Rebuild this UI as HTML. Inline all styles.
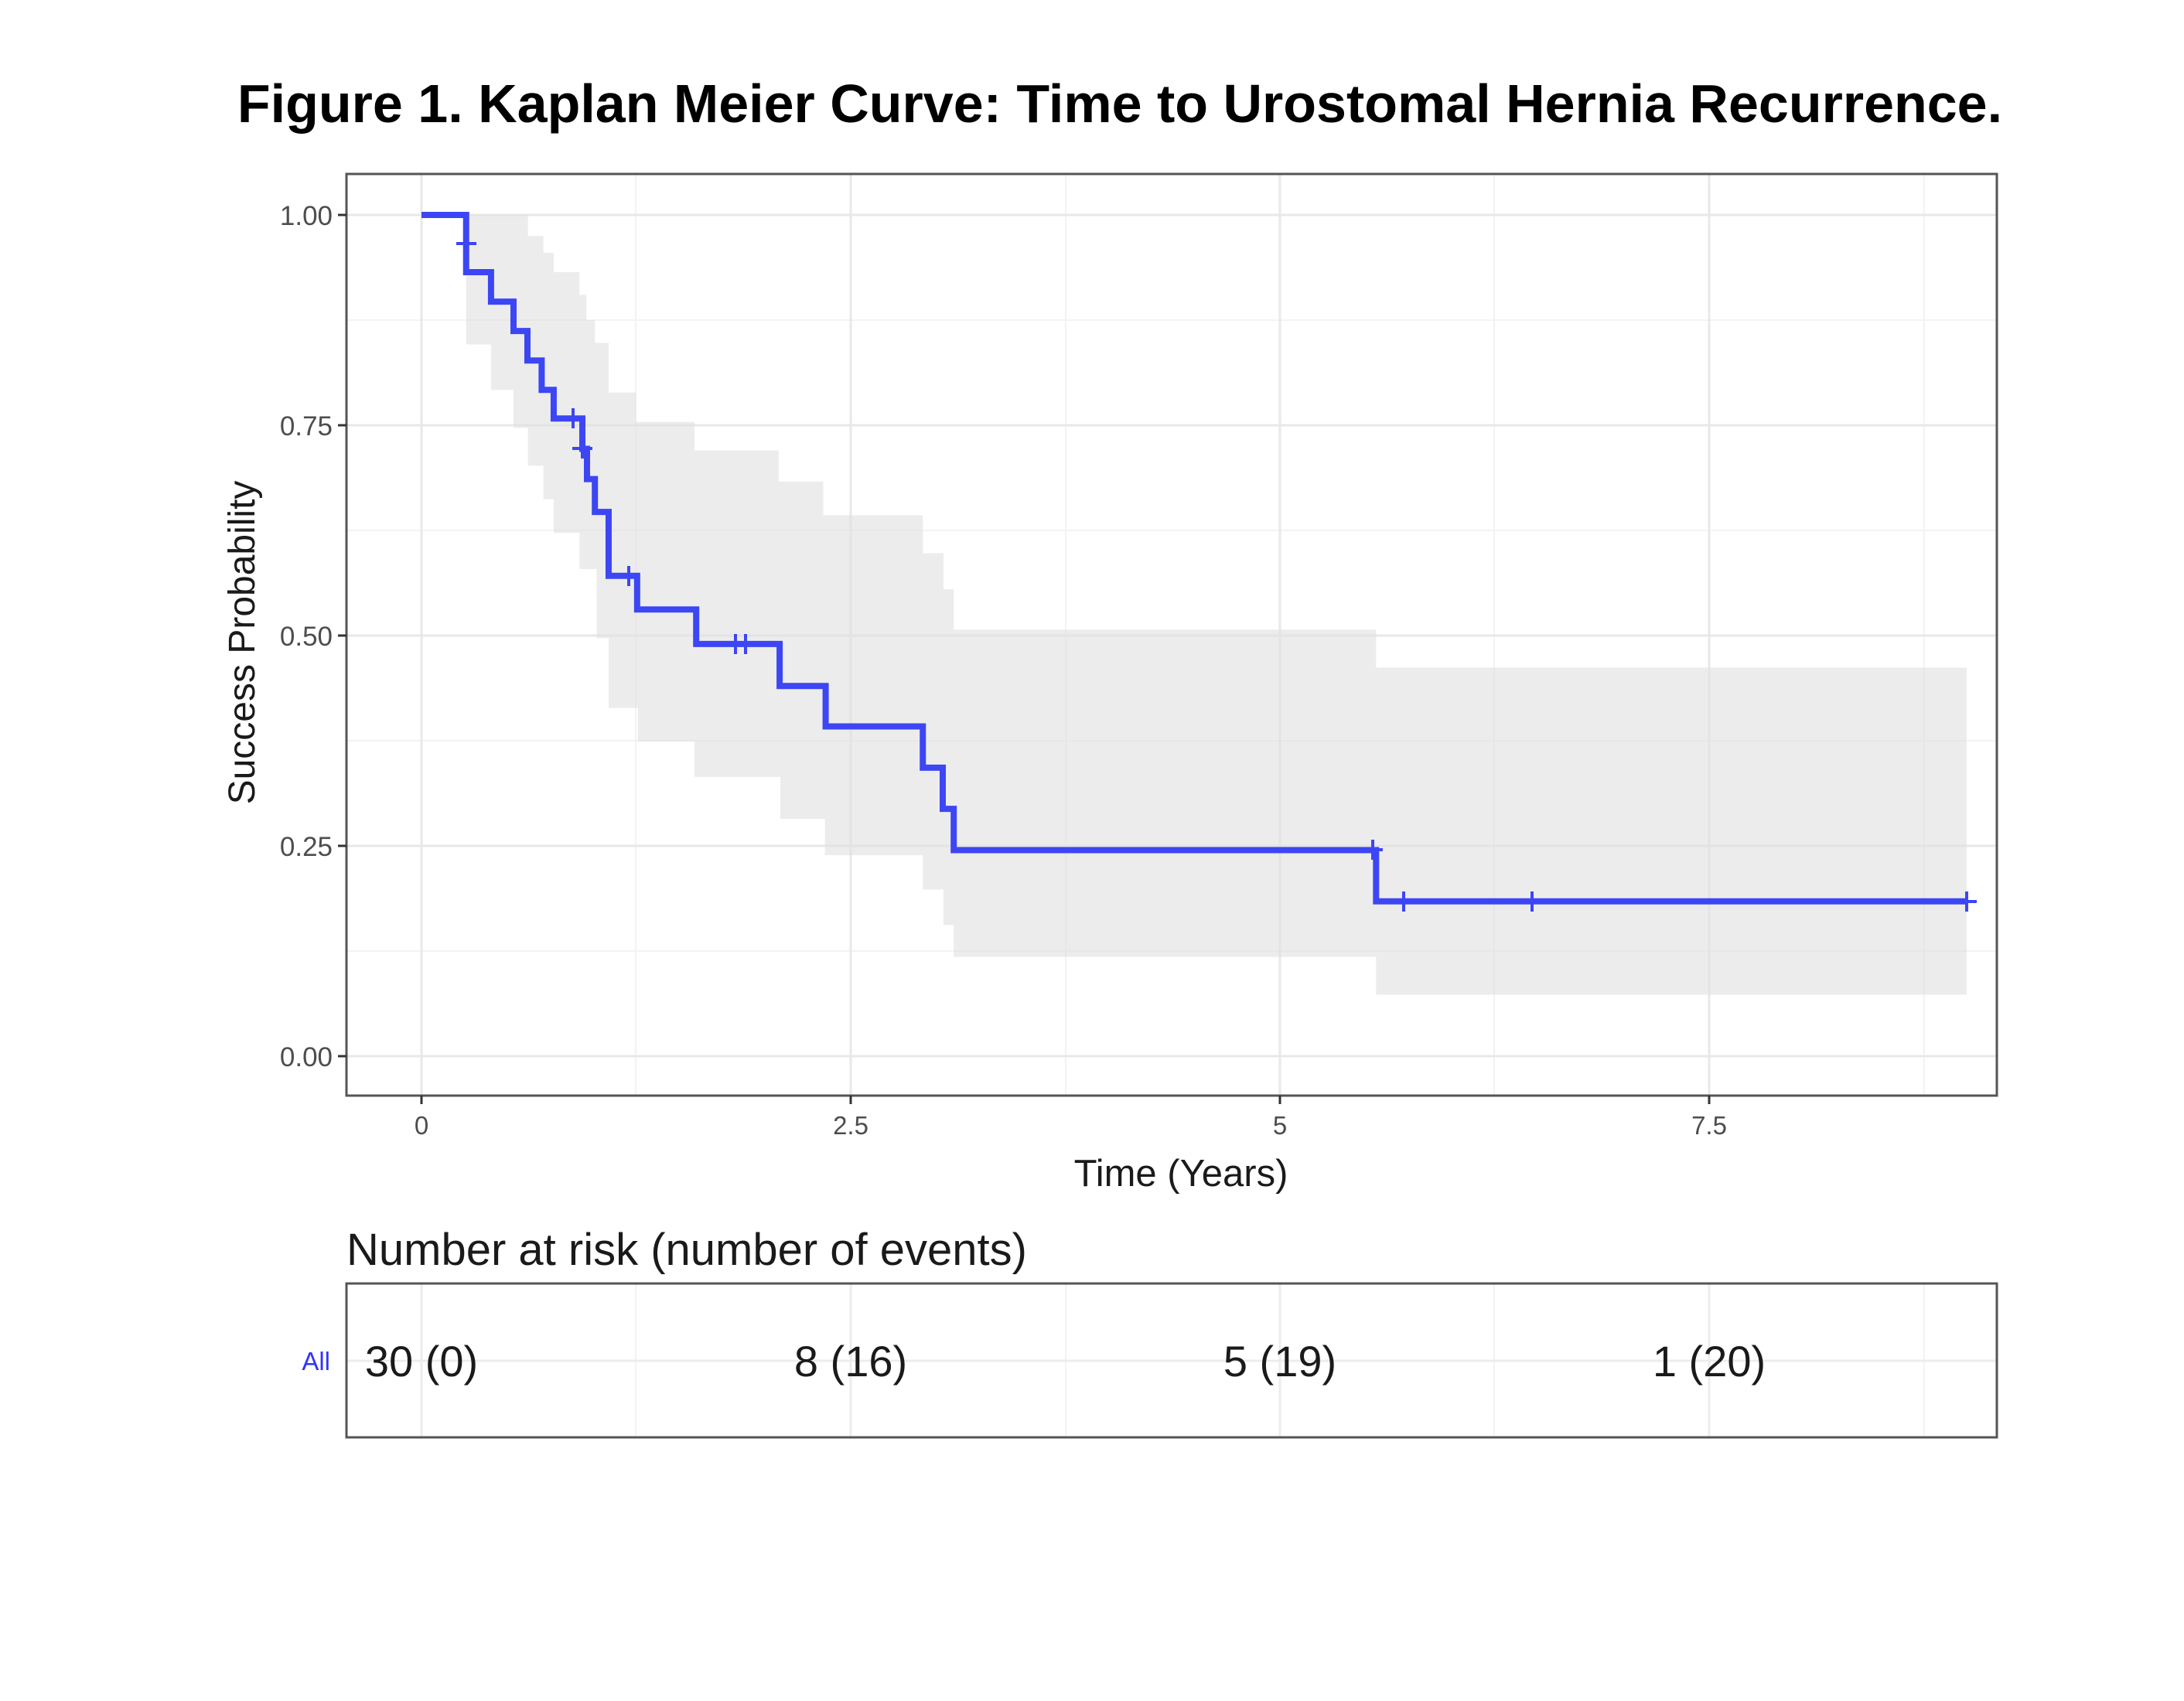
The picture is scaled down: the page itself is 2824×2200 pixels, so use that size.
<!DOCTYPE html>
<html><head><meta charset="utf-8"><style>
html,body{margin:0;padding:0;background:#fff;}
svg{display:block;font-family:"Liberation Sans",Arial,sans-serif;}
</style></head><body>
<svg width="2824" height="2200" viewBox="0 0 2824 2200" xmlns="http://www.w3.org/2000/svg">
<rect width="2824" height="2200" fill="#fff"/>
<text x="1448" y="158" font-size="70" font-weight="bold" text-anchor="middle" fill="#000">Figure 1. Kaplan Meier Curve: Time to Urostomal Hernia Recurrence.</text>

<g stroke="#f3f3f3" stroke-width="2">
<line x1="448" x2="2582" y1="1230" y2="1230"/><line x1="448" x2="2582" y1="958" y2="958"/><line x1="448" x2="2582" y1="686" y2="686"/><line x1="448" x2="2582" y1="414" y2="414"/>
<line y1="225" y2="1417" x1="822" x2="822"/><line y1="225" y2="1417" x1="1378" x2="1378"/><line y1="225" y2="1417" x1="1932" x2="1932"/><line y1="225" y2="1417" x1="2488" x2="2488"/>
</g>
<g stroke="#e8e8e8" stroke-width="3">
<line x1="448" x2="2582" y1="1366" y2="1366"/><line x1="448" x2="2582" y1="1094" y2="1094"/><line x1="448" x2="2582" y1="822" y2="822"/><line x1="448" x2="2582" y1="550" y2="550"/><line x1="448" x2="2582" y1="278" y2="278"/>
<line y1="225" y2="1417" x1="545" x2="545"/><line y1="225" y2="1417" x1="1100" x2="1100"/><line y1="225" y2="1417" x1="1655" x2="1655"/><line y1="225" y2="1417" x1="2210" x2="2210"/>
</g>

<g transform="translate(545,1366) scale(222,-1088)">
<path fill="#e0e0e0" fill-opacity="0.6" d="M0.26,1 L0.62,1 L0.62,0.975 L0.71,0.975 L0.71,0.955 L0.77,0.955 L0.77,0.932 L0.92,0.932 L0.92,0.905 L0.96,0.905 L0.96,0.875 L1.01,0.875 L1.01,0.848 L1.09,0.848 L1.09,0.789 L1.25,0.789 L1.25,0.754 L1.59,0.754 L1.59,0.72 L2.08,0.72 L2.08,0.683 L2.34,0.683 L2.34,0.643 L2.92,0.643 L2.92,0.598 L3.04,0.598 L3.04,0.555 L3.10,0.555 L3.10,0.507 L5.56,0.507 L5.56,0.462 L9.0,0.462 L9.0,0.073 L5.56,0.073 L5.56,0.118 L3.10,0.118 L3.10,0.156 L3.04,0.156 L3.04,0.198 L2.92,0.198 L2.92,0.239 L2.35,0.239 L2.35,0.282 L2.09,0.282 L2.09,0.332 L1.59,0.332 L1.59,0.374 L1.26,0.374 L1.26,0.414 L1.09,0.414 L1.09,0.497 L1.02,0.497 L1.02,0.579 L0.92,0.579 L0.92,0.622 L0.77,0.622 L0.77,0.662 L0.71,0.662 L0.71,0.702 L0.62,0.702 L0.62,0.747 L0.536,0.747 L0.536,0.792 L0.405,0.792 L0.405,0.846 L0.26,0.846 Z"/>
<path fill="none" stroke="#3c46f4" stroke-width="8" vector-effect="non-scaling-stroke" stroke-linejoin="miter" d="M0,1 H0.26 V0.932 H0.405 V0.897 H0.536 V0.862 H0.617 V0.827 H0.70 V0.792 H0.77 V0.758 H0.937 V0.722 H0.964 V0.686 H1.01 V0.647 H1.09 V0.571 H1.256 V0.531 H1.60 V0.49 H2.086 V0.44 H2.354 V0.392 H2.92 V0.343 H3.036 V0.294 H3.10 V0.245 H5.56 V0.184 H9.0"/>
</g>
<g stroke="#3c46f4" stroke-width="4">
<path d="M590,315 h26 M603,302 v26"/>
<path d="M728,541 h26 M741,528 v26"/>
<path d="M740,580 h26 M753,567 v26"/>
<path d="M800,745 h26 M813,732 v26"/>
<path d="M938,833 h26 M951,820 v26"/>
<path d="M951,833 h26 M964,820 v26"/>
<path d="M1762,1099 h26 M1775,1086 v26"/>
<path d="M1802,1166 h26 M1815,1153 v26"/>
<path d="M1968,1166 h26 M1981,1153 v26"/>
<path d="M2530,1166 h26 M2543,1153 v26"/>
</g>

<rect x="448" y="225" width="2134" height="1192" fill="none" stroke="#555" stroke-width="3"/>
<g stroke="#333" stroke-width="3">
<line x1="437" x2="448" y1="278" y2="278"/><line x1="437" x2="448" y1="550" y2="550"/><line x1="437" x2="448" y1="822" y2="822"/><line x1="437" x2="448" y1="1094" y2="1094"/><line x1="437" x2="448" y1="1366" y2="1366"/>
<line y1="1417" y2="1428" x1="545" x2="545"/><line y1="1417" y2="1428" x1="1100" x2="1100"/><line y1="1417" y2="1428" x1="1655" x2="1655"/><line y1="1417" y2="1428" x1="2210" x2="2210"/>
</g>
<g font-size="35" fill="#4d4d4d" text-anchor="end">
<text x="430" y="291">1.00</text><text x="430" y="563">0.75</text><text x="430" y="835">0.50</text><text x="430" y="1107">0.25</text><text x="430" y="1379">0.00</text>
</g>
<g font-size="33" fill="#4d4d4d" text-anchor="middle">
<text x="545" y="1467">0</text><text x="1100" y="1467">2.5</text><text x="1655" y="1467">5</text><text x="2210" y="1467">7.5</text>
</g>
<text x="1527" y="1534" font-size="49" text-anchor="middle" fill="#1a1a1a">Time (Years)</text>
<text transform="translate(329,831) rotate(-90)" font-size="48" text-anchor="middle" fill="#1a1a1a">Success Probability</text>

<text x="448" y="1636" font-size="58" fill="#1a1a1a">Number at risk (number of events)</text>
<g stroke="#f3f3f3" stroke-width="2">
<line y1="1660" y2="1859" x1="822" x2="822"/><line y1="1660" y2="1859" x1="1378" x2="1378"/><line y1="1660" y2="1859" x1="1932" x2="1932"/><line y1="1660" y2="1859" x1="2488" x2="2488"/>
</g>
<g stroke="#ececec" stroke-width="3">
<line x1="448" x2="2582" y1="1760" y2="1760"/>
<line y1="1660" y2="1859" x1="545" x2="545"/><line y1="1660" y2="1859" x1="1100" x2="1100"/><line y1="1660" y2="1859" x1="1655" x2="1655"/><line y1="1660" y2="1859" x1="2210" x2="2210"/>
</g>
<rect x="448" y="1660" width="2134" height="199" fill="none" stroke="#555" stroke-width="3"/>
<text x="427" y="1772" font-size="33" text-anchor="end" fill="#3333ff">All</text>
<g font-size="56" fill="#1a1a1a" text-anchor="middle">
<text x="545" y="1780">30 (0)</text><text x="1100" y="1780">8 (16)</text><text x="1655" y="1780">5 (19)</text><text x="2210" y="1780">1 (20)</text>
</g>
</svg>
</body></html>
